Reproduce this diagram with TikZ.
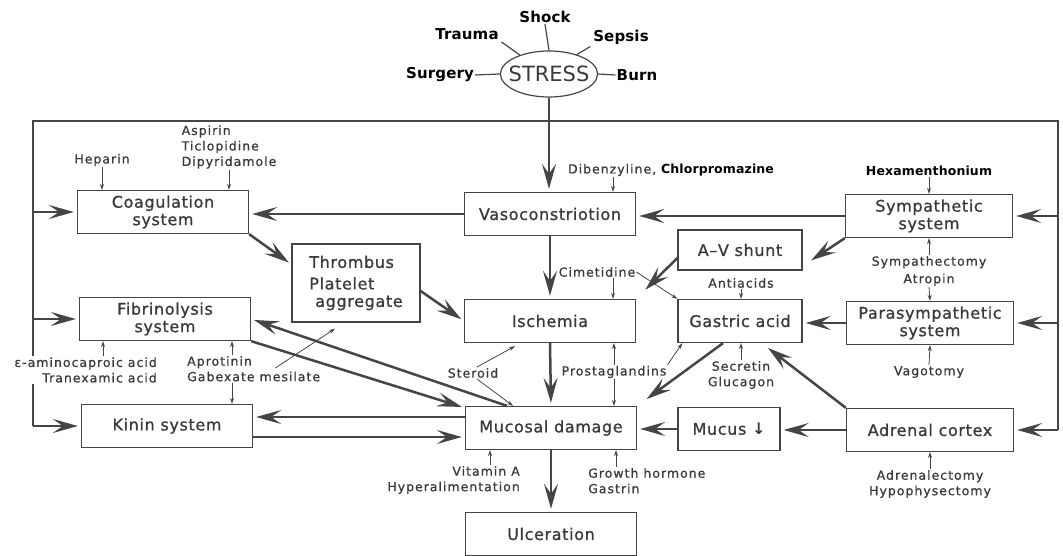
\documentclass[tikz,border=0pt]{standalone}
\usepackage{fontspec}
\setmainfont{DejaVu Sans}
\newfontfamily\boxfont[LetterSpace=4,FakeBold=1]{DejaVu Sans}
\newfontfamily\drugfont[LetterSpace=8,FakeBold=0.8]{DejaVu Sans}
\newfontfamily\boldfont[LetterSpace=1]{DejaVu Sans}
\usetikzlibrary{arrows.meta,shapes.geometric,calc}
\definecolor{ink}{HTML}{454545}
\definecolor{txt}{HTML}{3A3A3A}

\begin{document}
\begin{tikzpicture}[x=1pt,y=-1pt,
    box/.style={draw=ink, line width=1.3pt, minimum width=171pt, minimum height=43pt, inner sep=0pt, align=center, text=txt, font=\boxfont\fontsize{16}{17.5}\selectfont},
    ann/.style={text=txt, inner sep=1pt, font=\drugfont\fontsize{12.5}{15.5}\selectfont},
    bann/.style={text=black, inner sep=1pt, font=\boldfont\bfseries\fontsize{15}{17}\selectfont},
    big/.style={ink, line width=2.5pt, shorten >=3pt, -{Stealth[length=25pt,width=14pt,inset=10pt]}},
    drug/.style={ink, line width=0.8pt, -{Stealth[length=6pt,width=4pt]}},
    spoke/.style={ink, line width=1.2pt},
    frame/.style={ink, line width=2pt}]
    \useasboundingbox (0,0) rectangle (1063,556);

    % stress and its causes
    \node[draw=ink, line width=1.2pt, ellipse, minimum width=95pt, minimum height=46pt, inner xsep=-6pt, inner ysep=0pt, text=txt, font=\fontsize{21}{21}\selectfont] (stress) at (549,74) {STRESS};
    \node[bann] (surg) at (440,75) {Surgery};
    \node[bann] (burn) at (637,75) {Burn};
    \node[bann] (trauma) at (467,34) {Trauma};
    \node[bann] (shock) at (545,17) {Shock};
    \node[bann] (sepsis) at (621,37) {Sepsis};
    \draw[spoke] (surg.east) -- (stress.west);
    \draw[spoke] (stress.east) -- (burn.west);
    \draw[spoke, shorten >=2pt] (stress.147) -- (trauma.south east);
    \draw[spoke] (stress.north) -- (shock.south);
    \draw[spoke, shorten >=2pt] (stress.35) -- (sepsis.south west);

    % boxes
    \node[box] (vaso) at (550,214) {Vasoconstriotion};
    \node[box] (isch) at (550,321) {Ischemia};
    \node[box] (muc) at (551,428) {Mucosal damage};
    \node[box] (ulc) at (551,534) {Ulceration};
    \node[box] (coag) at (163,212) {Coagulation\\system};
    \node[box] (fib) at (165,319) {Fibrinolysis\\system};
    \node[box] (kinin) at (167,426) {Kinin system};
    \node[box, minimum width=128pt, minimum height=78pt, align=left] (thromb) at (356,283) {Thrombus\\[4pt]Platelet\\\hspace*{6pt}aggregate};
    \node[box, minimum width=124pt, minimum height=40pt] (avs) at (740,250) {A–V shunt};
    \node[box, minimum width=124pt] (gas) at (740,321) {Gastric acid};
    \node[box, minimum width=102pt] (mucus) at (729,429) {Mucus {\boldfont\bfseries ↓}};
    \node[box, minimum width=167pt] (symp) at (929,216) {Sympathetic\\system};
    \node[box, minimum width=167pt] (para) at (930,323) {Parasympathetic\\system};
    \node[box, minimum width=167pt] (adr) at (930,430) {Adrenal cortex};

    % outer frame
    \coordinate (tl) at (33,121);
    \coordinate (tr) at (1058,121);
    \coordinate (bl) at (33,426);
    \coordinate (br) at (1058,430);
    \draw[frame] (bl) -- (tl) -- (tr) -- (br);
    \draw[big] (tl |- coag) -- (coag.west);
    \draw[big] (tl |- fib) -- (fib.west);
    \draw[big] (bl) -- (kinin.west);
    \draw[big] (tr |- symp) -- (symp.east);
    \draw[big] (tr |- para) -- (para.east);
    \draw[big] (br) -- (adr.east);

    % main arrows
    \draw[big] (stress.south) -- (stress.south |- vaso.north);
    \draw[big] (vaso.south) -- (isch.north);
    \draw[big] (isch.south) -- (muc.north);
    \draw[big] (muc.south) -- (ulc.north);
    \draw[big] (vaso.west) -- (vaso.west -| coag.east);
    \draw[big] (symp.west) -- (symp.west -| vaso.east);
    \draw[big] (coag.south east) -- ([yshift=-21pt]thromb.north west);
    \draw[big] ([yshift=-8pt]thromb.east) -- (isch.west);
    \draw[big] ([xshift=-44pt]muc.north) -- (fib.east);
    \draw[big] (fib.south east) -- ([yshift=-2pt]muc.north west);
    \draw[big] ([yshift=11pt]muc.west) -- ([yshift=11pt]muc.west -| kinin.east);
    \draw[big] ([yshift=-11pt]kinin.east) -- ([yshift=-11pt]kinin.east -| muc.west);
    \draw[big] (symp.south west) -- ([shift={(6pt,-12pt)}]avs.east);
    \draw[big] ([yshift=-8pt]avs.west) -- ([shift={(7pt,7pt)}]isch.north east);
    \draw[big] ([xshift=-17pt]gas.south) -- ([shift={(7pt,5pt)}]muc.north east);
    \draw[big] (adr.north west) -- ([xshift=-37pt,yshift=-3pt]gas.south east);
    \draw[big] (para.west) -- (para.west -| gas.east);
    \draw[big] (adr.west) -- (adr.west -| mucus.east);
    \draw[big] (mucus.west) -- (mucus.west -| muc.east);

    % drugs and treatments
    \node[ann] (hep) at (102,160) {Heparin};
    \draw[drug] (hep.south) -- (hep.south |- coag.north);
    \node[ann, align=left] (asp) at (229,147) {Aspirin\\Ticlopidine\\Dipyridamole};
    \draw[drug] (asp.south) -- (asp.south |- coag.north);
    \node[ann] (dib) at (671,170) {Dibenzyline, {\boldfont\bfseries\fontsize{12.5}{15}\selectfont\color{black}Chlorpromazine}};
    \draw[drug] ([xshift=63pt]vaso.north |- dib.south) -- ([xshift=63pt]vaso.north);
    \node[ann, font=\boldfont\bfseries\fontsize{12.5}{15}\selectfont, text=black] (hex) at (929,171) {Hexamenthonium};
    \draw[drug] (hex.south) -- (symp.north);
    \node[ann, align=center] (sat) at (929,271) {Sympathectomy\\[2pt]Atropin};
    \draw[drug] (sat.north) -- (symp.south);
    \draw[drug] (sat.south) -- (para.north);
    \node[ann] (vag) at (929,372) {Vagotomy};
    \draw[drug] (vag.north) -- (para.south);
    \node[ann, align=center] (adx) at (930,484) {Adrenalectomy\\Hypophysectomy};
    \draw[drug] (adx.north) -- (adr.south);
    \node[ann] (cim) at (597,272) {Cimetidine};
    \draw[drug] ([xshift=16pt]cim.south) -- ([xshift=16pt]cim.south |- isch.north);
    \draw[drug] (cim.east) -- (gas.north west);
    \node[ann] (anti) at (741,283) {Antiacids};
    \draw[drug] (anti.south) -- (anti.south |- gas.north);
    \node[ann, align=center] (sec) at (741,375) {Secretin\\Glucagon};
    \draw[drug] (sec.north) -- (sec.north |- gas.south);
    \node[ann] (pros) at (614,372) {Prostaglandins};
    \draw[drug] (pros.north) -- (pros.north |- isch.south);
    \draw[drug] (pros.south) -- (pros.south |- muc.north);
    \draw[drug] (pros.north east) -- ([xshift=5pt]gas.south west);
    \node[ann] (ster) at (473,373) {Steroid};
    \draw[drug] ([xshift=4pt]ster.north) -- ([xshift=-35pt,yshift=-3pt]isch.south);
    \draw[drug] ([xshift=4pt]ster.south) -- ([xshift=-38pt]muc.north);
    \node[ann, align=right, anchor=east, fill=white] (eps) at (158,370) {ε-aminocaproic acid\\Tranexamic acid};
    \draw[drug] ([xshift=-62pt]fib.south |- eps.north) -- ([xshift=-62pt]fib.south);
    \node[ann, align=left, anchor=north west] (apr) at (186,355) {Aprotinin\\Gabexate mesilate};
    \draw[drug] ([xshift=67pt]fib.south |- apr.north) -- ([xshift=67pt]fib.south);
    \draw[drug] ([xshift=65pt]kinin.north |- apr.south) -- ([xshift=65pt]kinin.north);
    \draw[drug] ([shift={(-46pt,-13pt)}]apr.north east) -- ([shift={(-21pt,-6pt)}]thromb.south);
    \node[ann, align=right, anchor=north east] (vit) at (521,465) {Vitamin A\\Hyperalimentation};
    \draw[drug] ([xshift=-61pt]muc.south |- vit.north) -- ([xshift=-61pt]muc.south);
    \node[ann, align=left, anchor=north west] (gro) at (587,467) {Growth hormone\\Gastrin};
    \draw[drug] ([xshift=65pt]muc.south |- gro.north) -- ([xshift=65pt]muc.south);
\end{tikzpicture}
\end{document}
